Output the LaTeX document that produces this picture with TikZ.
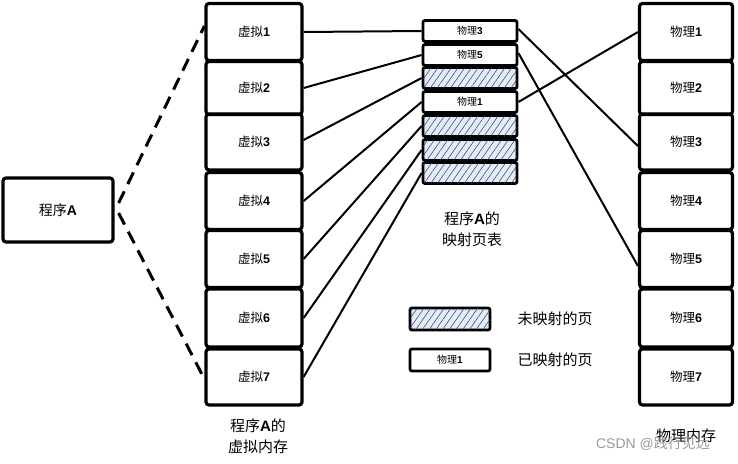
\documentclass[tikz,border=0pt]{standalone}
\usepackage{fontspec}
\setmainfont{Noto Sans CJK SC}
\newfontfamily\lat{Liberation Sans}
\usetikzlibrary{patterns.meta}
\definecolor{hatchfill}{RGB}{228,236,246}
\definecolor{hatchline}{RGB}{40,60,110}
\tikzset{
  bigbox/.style={draw, line width=3.2pt, rounded corners=3pt, minimum width=96pt, minimum height=56pt, inner sep=0pt, font=\fontsize{12.5}{13}\selectfont},
  ptbox/.style={draw, line width=2.8pt, rounded corners=2pt, minimum width=94pt, minimum height=21pt, inner sep=0pt, font=\fontsize{10}{11}\selectfont},
  hatchbox/.style={ptbox, fill=hatchfill, postaction={pattern={Lines[angle=55,distance=5.5pt,line width=0.5pt]}, pattern color=hatchline}},
  conn/.style={line width=2pt},
  dashconn/.style={line width=3pt, dash pattern=on 13pt off 8pt},
  title/.style={font=\fontsize{15}{21}\selectfont, align=center},
}
\begin{document}
\begin{tikzpicture}[x=1pt,y=-1pt]
\useasboundingbox (0,0) rectangle (738,463);
% program A
\node[bigbox, minimum width=110pt, minimum height=64pt, font=\fontsize{14}{15}\selectfont] (pa) at (58,210) {程序{\lat\bfseries A}};
% virtual memory
\node[bigbox, minimum height=57pt] (v1) at (254,32) {虚拟{\lat\bfseries 1}};
\node[bigbox, minimum height=53pt] (v2) at (254,88) {虚拟{\lat\bfseries 2}};
\node[bigbox, minimum height=56pt] (v3) at (254,142) {虚拟{\lat\bfseries 3}};
\node[bigbox, minimum height=57pt] (v4) at (254,201) {虚拟{\lat\bfseries 4}};
\node[bigbox, minimum height=57pt] (v5) at (254,259) {虚拟{\lat\bfseries 5}};
\node[bigbox, minimum height=58pt] (v6) at (254,318) {虚拟{\lat\bfseries 6}};
\node[bigbox, minimum height=56pt] (v7) at (254,377) {虚拟{\lat\bfseries 7}};
\node[title] (vt) at (258,436) {程序{\lat\bfseries A}的\\虚拟内存};
% page table
\node[ptbox] (p1) at (470,31) {物理{\lat\bfseries 3}};
\node[ptbox] (p2) at (470,55) {物理{\lat\bfseries 5}};
\node[hatchbox] (p3) at (470,78) {};
\node[ptbox] (p4) at (470,102) {物理{\lat\bfseries 1}};
\node[hatchbox] (p5) at (470,126) {};
\node[hatchbox] (p6) at (470,150) {};
\node[hatchbox] (p7) at (470,173) {};
\node[title] (pt) at (472,229) {程序{\lat\bfseries A}的\\映射页表};
% physical memory
\node[bigbox, minimum width=93pt, minimum height=57pt] (m1) at (686,32) {物理{\lat\bfseries 1}};
\node[bigbox, minimum width=93pt, minimum height=53pt] (m2) at (686,88) {物理{\lat\bfseries 2}};
\node[bigbox, minimum width=93pt, minimum height=56pt] (m3) at (686,142) {物理{\lat\bfseries 3}};
\node[bigbox, minimum width=93pt, minimum height=57pt] (m4) at (686,201) {物理{\lat\bfseries 4}};
\node[bigbox, minimum width=93pt, minimum height=57pt] (m5) at (686,259) {物理{\lat\bfseries 5}};
\node[bigbox, minimum width=93pt, minimum height=58pt] (m6) at (686,318) {物理{\lat\bfseries 6}};
\node[bigbox, minimum width=93pt, minimum height=56pt] (m7) at (686,377) {物理{\lat\bfseries 7}};
\node[title] (mt) at (686,436) {物理内存};
% legend
\node[hatchbox, minimum width=80pt, minimum height=22pt] (l1) at (450,319) {};
\node[ptbox, minimum width=80pt, minimum height=22pt] (l2) at (450,360) {物理{\lat\bfseries 1}};
\node[title, anchor=west] (l1t) at (514,319) {未映射的页};
\node[title, anchor=west] (l2t) at (514,360) {已映射的页};
% watermark
\node[font=\fontsize{14}{16}\selectfont, text=black!40] (wm) at (653,444) {{\lat CSDN @}践行见远};
% dashed connectors
\draw[dashconn] ([xshift=4pt,yshift=7pt]pa.east) -- ([yshift=6pt]v1.west);
\draw[dashconn] ([xshift=4pt,yshift=-3pt]pa.east) -- ([yshift=-2pt]v7.west);
% virtual -> page table
\draw[conn] (v1.east) -- (p1.west);
\draw[conn] (v2.east) -- (p2.west);
\draw[conn] ([yshift=2pt]v3.east) -- (p3.west);
\draw[conn] (v4.east) -- (p4.west);
\draw[conn] (v5.east) -- (p5.west);
\draw[conn] (v6.east) -- (p6.west);
\draw[conn] (v7.east) -- (p7.west);
% page table -> physical
\draw[conn] ([yshift=2pt]p1.east) -- ([yshift=-4pt]m3.west);
\draw[conn] ([yshift=2pt]p2.east) -- ([yshift=-7pt]m5.west);
\draw[conn] (p4.east) -- (m1.west);
\end{tikzpicture}
\end{document}
